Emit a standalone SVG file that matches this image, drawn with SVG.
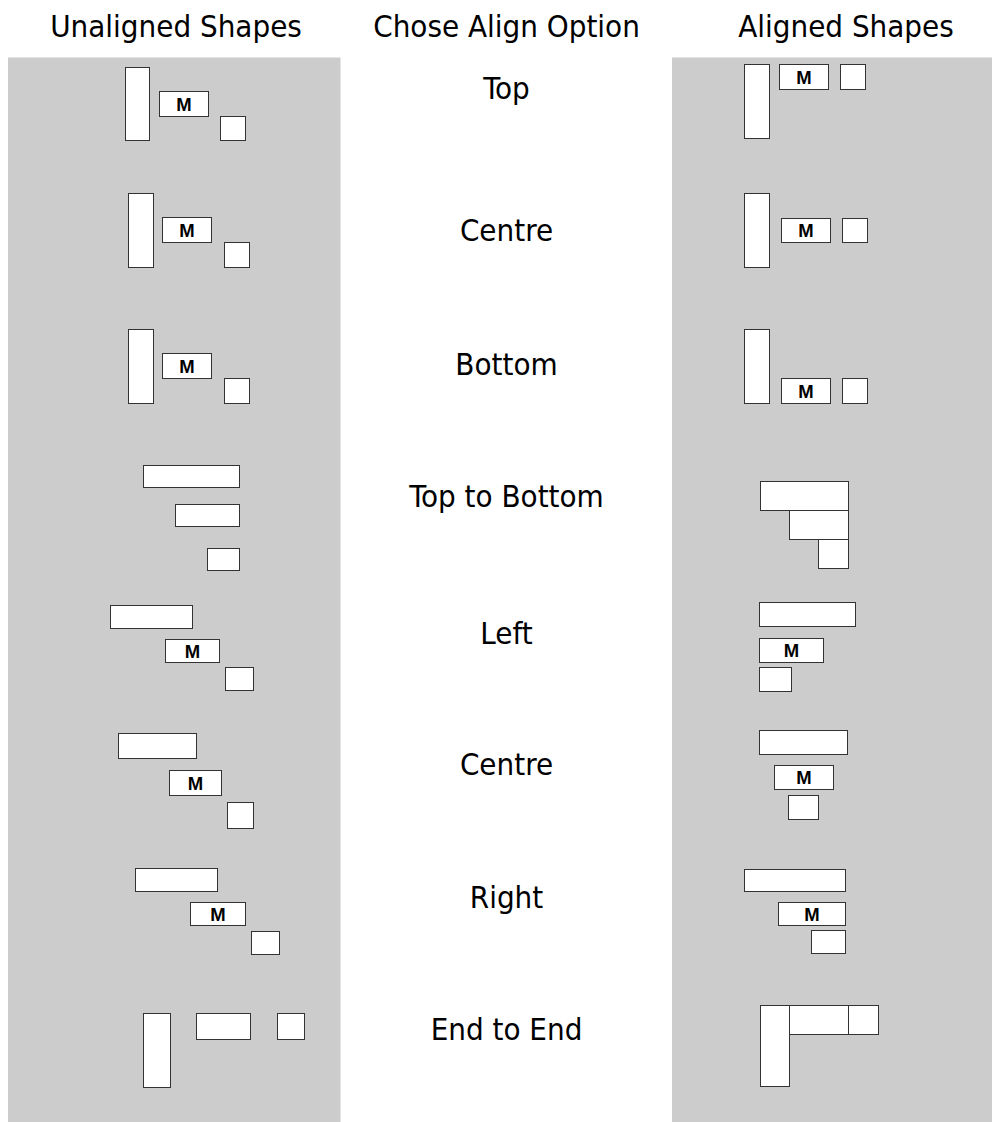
<svg xmlns="http://www.w3.org/2000/svg" width="992" height="1122" viewBox="0 0 992 1122">
<style>
.panel{fill:#cccccc;stroke:none}
.box{fill:#ffffff;stroke:#333333;stroke-width:1}
.lbl{font-family:'DejaVu Sans Condensed','DejaVu Sans',sans-serif;font-stretch:condensed;font-size:31px;fill:#000;text-anchor:middle}
.m{font-family:'Liberation Sans',Arial,sans-serif;font-weight:bold;font-size:18.5px;fill:#000;text-anchor:middle}
</style>
<rect width="992" height="1122" fill="#ffffff"/>
<g id="panels">
<rect class="panel" x="8" y="57.5" width="332.5" height="1064.5"/>
<rect class="panel" x="672" y="57.5" width="320" height="1064.5"/>
</g>
<g id="headers">
<text class="lbl" x="176" y="37">Unaligned Shapes</text>
<text class="lbl" x="506.5" y="37">Chose Align Option</text>
<text class="lbl" x="846" y="37">Aligned Shapes</text>
</g>
<g id="options">
<text class="lbl" x="506.5" y="99">Top</text>
<text class="lbl" x="506.5" y="240.5">Centre</text>
<text class="lbl" x="506.5" y="374.5">Bottom</text>
<text class="lbl" x="506.5" y="506.5">Top to Bottom</text>
<text class="lbl" x="506.5" y="643.5">Left</text>
<text class="lbl" x="506.5" y="774.5">Centre</text>
<text class="lbl" x="506.5" y="907.5">Right</text>
<text class="lbl" x="506.5" y="1040">End to End</text>
</g>
<g id="row1-unaligned">
<rect class="box" x="125.5" y="67.5" width="24" height="73"/>
<rect class="box" x="159.5" y="91.5" width="49" height="25"/><text class="m" x="184" y="110.5">M</text>
<rect class="box" x="220.5" y="116.5" width="25" height="24"/>
</g>
<g id="row1-aligned">
<rect class="box" x="744.5" y="64.5" width="25" height="74"/>
<rect class="box" x="779.5" y="64.5" width="49" height="25"/><text class="m" x="804" y="83.5">M</text>
<rect class="box" x="840.5" y="64.5" width="25" height="25"/>
</g>
<g id="row2-unaligned">
<rect class="box" x="128.5" y="193.5" width="25" height="74"/>
<rect class="box" x="162.5" y="217.5" width="49" height="25"/><text class="m" x="187" y="236.5">M</text>
<rect class="box" x="224.5" y="242.5" width="25" height="25"/>
</g>
<g id="row2-aligned">
<rect class="box" x="744.5" y="193.5" width="25" height="74"/>
<rect class="box" x="781.5" y="218.5" width="49" height="24"/><text class="m" x="806" y="237">M</text>
<rect class="box" x="842.5" y="218.5" width="25" height="24"/>
</g>
<g id="row3-unaligned">
<rect class="box" x="128.5" y="329.5" width="25" height="74"/>
<rect class="box" x="162.5" y="353.5" width="49" height="25"/><text class="m" x="187" y="372.5">M</text>
<rect class="box" x="224.5" y="378.5" width="25" height="25"/>
</g>
<g id="row3-aligned">
<rect class="box" x="744.5" y="329.5" width="25" height="74"/>
<rect class="box" x="781.5" y="378.5" width="49" height="25"/><text class="m" x="806" y="397.5">M</text>
<rect class="box" x="842.5" y="378.5" width="25" height="25"/>
</g>
<g id="row4-unaligned">
<rect class="box" x="143.5" y="465.5" width="96" height="22"/>
<rect class="box" x="175.5" y="504.5" width="64" height="22"/>
<rect class="box" x="207.5" y="548.5" width="32" height="22"/>
</g>
<g id="row4-aligned">
<rect class="box" x="760.5" y="481.5" width="88" height="29"/>
<rect class="box" x="789.5" y="510.5" width="59" height="29"/>
<rect class="box" x="818.5" y="539.5" width="30" height="29"/>
</g>
<g id="row5-unaligned">
<rect class="box" x="110.5" y="605.5" width="82" height="23"/>
<rect class="box" x="165.5" y="639.5" width="54" height="23"/><text class="m" x="192.5" y="657.5">M</text>
<rect class="box" x="225.5" y="667.5" width="28" height="23"/>
</g>
<g id="row5-aligned">
<rect class="box" x="759.5" y="602.5" width="96" height="24"/>
<rect class="box" x="759.5" y="638.5" width="64" height="24"/><text class="m" x="791.5" y="657">M</text>
<rect class="box" x="759.5" y="667.5" width="32" height="24"/>
</g>
<g id="row6-unaligned">
<rect class="box" x="118.5" y="733.5" width="78" height="25"/>
<rect class="box" x="169.5" y="770.5" width="52" height="25"/><text class="m" x="195.5" y="789.5">M</text>
<rect class="box" x="227.5" y="802.5" width="26" height="26"/>
</g>
<g id="row6-aligned">
<rect class="box" x="759.5" y="730.5" width="88" height="24"/>
<rect class="box" x="774.5" y="765.5" width="59" height="24"/><text class="m" x="804" y="784">M</text>
<rect class="box" x="788.5" y="795.5" width="30" height="24"/>
</g>
<g id="row7-unaligned">
<rect class="box" x="135.5" y="868.5" width="82" height="23"/>
<rect class="box" x="190.5" y="902.5" width="55" height="23"/><text class="m" x="218" y="920.5">M</text>
<rect class="box" x="251.5" y="931.5" width="28" height="23"/>
</g>
<g id="row7-aligned">
<rect class="box" x="744.5" y="869.5" width="101" height="22"/>
<rect class="box" x="778.5" y="902.5" width="67" height="23"/><text class="m" x="812" y="920.5">M</text>
<rect class="box" x="811.5" y="930.5" width="34" height="23"/>
</g>
<g id="row8-unaligned">
<rect class="box" x="143.5" y="1013.5" width="27" height="74"/>
<rect class="box" x="196.5" y="1013.5" width="54" height="26"/>
<rect class="box" x="277.5" y="1013.5" width="27" height="26"/>
</g>
<g id="row8-aligned">
<rect class="box" x="760.5" y="1005.5" width="29" height="81"/>
<rect class="box" x="789.5" y="1005.5" width="59" height="29"/>
<rect class="box" x="848.5" y="1005.5" width="30" height="29"/>
</g>
</svg>
